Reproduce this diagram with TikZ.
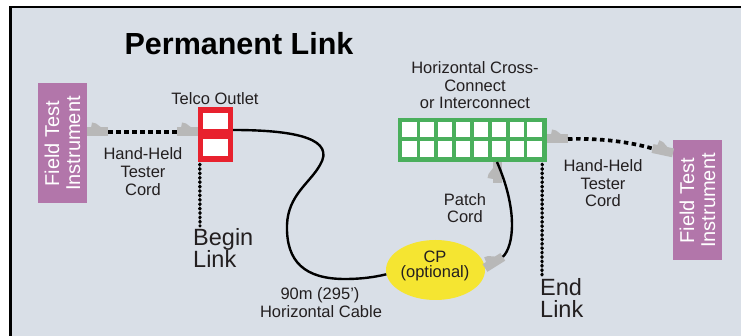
\documentclass[tikz,border=0pt]{standalone}
\usepackage{fontspec}
\setmainfont{Liberation Sans}
\usetikzlibrary{shapes.geometric}
\definecolor{bgc}{HTML}{D9DFE7}
\definecolor{instc}{HTML}{B276AA}
\definecolor{redc}{HTML}{E8212E}
\definecolor{greenc}{HTML}{4AAF5C}
\definecolor{cpc}{HTML}{F5E531}
\definecolor{plugc}{HTML}{B8B8B8}
\definecolor{txtc}{HTML}{231F20}
\begin{document}
\begin{tikzpicture}[x=1pt,y=-1pt,
  lbl/.style={text=txtc,font=\fontsize{16.5}{18}\selectfont,inner sep=0pt,anchor=base},
  biglbl/.style={text=txtc,font=\fontsize{23.5}{22}\selectfont,inner sep=0pt,anchor=base west},
  titlelbl/.style={text=black,font=\bfseries\fontsize{30.5}{36}\selectfont,inner sep=0pt,anchor=base},
  inst/.style={fill=instc,rotate=90,minimum width=120pt,minimum height=49pt,inner sep=0pt,
    text=white,align=center,font=\fontsize{20}{21}\selectfont},
  outletbox/.style={fill=redc,minimum width=35pt,minimum height=55pt,inner sep=0pt},
  xcbox/.style={fill=greenc,minimum width=149pt,minimum height=44pt,inner sep=0pt},
  cpnode/.style={ellipse,fill=cpc,minimum width=99pt,minimum height=60pt,inner sep=0pt},
  cable/.style={line width=2.4pt,black},
  dashcord/.style={line width=3.7pt,black,dash pattern=on 4.5pt off 3.5pt},
  dotline/.style={line width=3.4pt,black,line cap=round,dash pattern=on 0.8pt off 3.6pt},
  plug/.pic={
    \fill[plugc] (0,-4.5) rectangle (21,4.5);
    \fill[plugc] (4,-4) -- (5,-9.5) -- (9,-8.5) -- (15,-4) -- cycle;
    \coordinate (-a) at (0,0);
    \coordinate (-b) at (21,0);
  }
]
\useasboundingbox (0,0) rectangle (741,336);
\fill[white] (0,0) rectangle (741,336);
\fill[bgc] (10.5,7) rectangle (741,336);
\draw[line width=2.3pt] (10.5,336) -- (10.5,7) -- (741,7);

% title
\node[titlelbl] (title) at (239,55) {Permanent Link};

% instruments
\node[inst] (instL) at (62.5,143.5) {Field Test\\Instrument};
\node[inst] (instR) at (697.5,200.5) {Field Test\\Instrument};

% telco outlet
\node[outletbox] (outlet) at (215.5,134.5) {};
\fill[white] (203,113) rectangle (228,129);
\fill[white] (203,139) rectangle (228,156);
\node[lbl] (outletlbl) at (215,105) {Telco Outlet};

% cross-connect
\node[xcbox] (xc) at (472.5,140) {};
\foreach \i in {0,...,7}{
  \foreach \j in {0,1}{
    \fill[white] ({402.3+\i*17.87},{122+\j*19.3}) rectangle +(14.3,15.5);
  }
}
\node[lbl] (xc1) at (475,74) {Horizontal Cross-};
\node[lbl] (xc2) at (475,91.5) {Connect};
\node[lbl] (xc3) at (475,109) {or Interconnect};

% CP
\node[cpnode] (cp) at (435.5,270) {};
\node[lbl] (cp1) at (435,263) {CP};
\node[lbl] (cp2) at (435,278) {(optional)};

% plugs
\pic (pA) at (87,132) {plug};
\pic (pB) at (177,132) {plug};
\pic (pC) at (547,139) {plug};
\pic[rotate=-12] (pD) at (652.5,148.5) {plug};
\pic[rotate=32] (pE) at (485,268) {plug};
\pic[rotate=90] (pF) at (497,183) {plug};

% cords
\draw[dashcord] (pA-b) -- (pB-a);
\draw[dashcord] (pC-b) .. controls (600,138) and (630,142) .. (pD-a);
\draw[cable] ([yshift=4.5pt]outlet.east) .. controls (300,130) and (335,140) .. (320,165)
  .. controls (310,183) and (288,195) .. (287,225)
  .. controls (286,262) and (305,279) .. (345,279)
  .. controls (362,279) and (375,277) .. (cp.185);
\draw[cable] (pE-b) .. controls (514,246) and (518,210) .. (pF-b);

% begin / end markers
\coordinate (bend) at (200,226);
\coordinate (eend) at (542,275);
\draw[dotline] ([xshift=2pt,yshift=-2pt]outlet.south west) -- (bend);
\draw[dotline] ([xshift=-5pt,yshift=-2pt]xc.south east) -- (eend);
\node[biglbl] (begin1) at (193,246) {Begin};
\node[biglbl] (begin2) at (193,268) {Link};
\node[biglbl] (end1) at (540,296) {End};
\node[biglbl] (end2) at (540,318) {Link};

% labels
\node[lbl] (hl1) at (143,160) {Hand-Held};
\node[lbl] (hl2) at (143,178) {Tester};
\node[lbl] (hl3) at (143,196) {Cord};
\node[lbl] (hr1) at (603,172) {Hand-Held};
\node[lbl] (hr2) at (603,190) {Tester};
\node[lbl] (hr3) at (603,207) {Cord};
\node[lbl] (pc1) at (465,206) {Patch};
\node[lbl] (pc2) at (465,223) {Cord};
\node[lbl] (hc1) at (320,300) {90m (295')};
\node[lbl] (hc2) at (321,318) {Horizontal Cable};
\end{tikzpicture}
\end{document}
